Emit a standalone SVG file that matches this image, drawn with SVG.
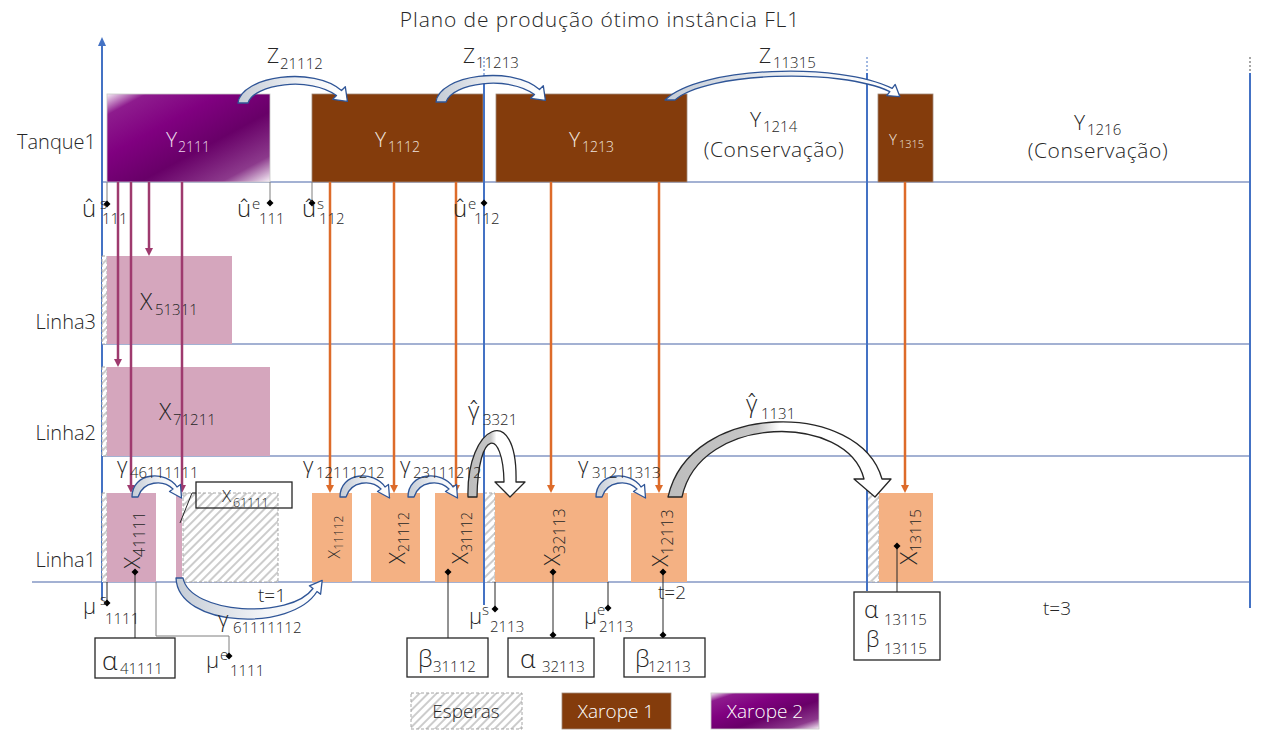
<svg xmlns="http://www.w3.org/2000/svg" xmlns:xlink="http://www.w3.org/1999/xlink" width="1261" height="732" viewBox="0 0 1261 732">
<defs>
<pattern id="hatch" width="6" height="6" patternUnits="userSpaceOnUse" patternTransform="rotate(45)"><rect width="6" height="6" fill="#fff"/><line x1="1" y1="0" x2="1" y2="6" stroke="#BFBFBF" stroke-width="1.6"/></pattern>
<linearGradient id="gP" x1="0" y1="0" x2="1" y2="1"><stop offset="0" stop-color="#F6ECF6"/><stop offset="0.12" stop-color="#8E1C8E"/><stop offset="0.35" stop-color="#800080"/><stop offset="0.6" stop-color="#680068"/><stop offset="0.85" stop-color="#8C3A8C"/><stop offset="1" stop-color="#F8F2F8"/></linearGradient>
<linearGradient id="gZ" x1="0" y1="0" x2="1" y2="0"><stop offset="0" stop-color="#C5CCD6"/><stop offset="0.6" stop-color="#F2F4F7"/><stop offset="1" stop-color="#FFFFFF"/></linearGradient>
<linearGradient id="gG" x1="0" y1="0" x2="1" y2="0"><stop offset="0" stop-color="#BDBDBD"/><stop offset="0.4" stop-color="#C6C6C6"/><stop offset="0.5" stop-color="#FFFFFF"/><stop offset="1" stop-color="#FFFFFF"/></linearGradient>
<marker id="aO" viewBox="0 0 10 10" refX="0" refY="5" markerWidth="8" markerHeight="8" markerUnits="userSpaceOnUse" orient="auto"><path d="M0,0 L10,5 L0,10 z" fill="#DD6B2A"/></marker>
<marker id="aP" viewBox="0 0 10 10" refX="0" refY="5" markerWidth="8" markerHeight="8" markerUnits="userSpaceOnUse" orient="auto"><path d="M0,0 L10,5 L0,10 z" fill="#9E3A6E"/></marker>
<path id="dm" d="M0,-3.5 L3.5,0 L0,3.5 L-3.5,0 z" fill="#000"/>
<path id="zarc" d="M238,103 C241,76 314,66 341.5,90.5 L345.3,86.7 L347.4,101.4 L332.7,99.3 L336.5,95.5 C310,76 254,84 248,103 Z"/>
<path id="sarc" d="M132,497 C132,472 166,470 177,487 L180.5,484.5 L181.5,498 L169.5,491.5 L173,489 C163,479 143,481 138,497 Z"/>
</defs>
<style>
text{font-family:"Open Sans","Liberation Sans",sans-serif;fill:#262626;font-weight:300}
.row{font-size:20px;text-anchor:end}
.grid{stroke:#8497C4;stroke-width:1.3;fill:none}
.axis{stroke:#4472C4;stroke-width:2;fill:none}
.dot{stroke:#4472C4;stroke-width:1;stroke-dasharray:2 2;fill:none}
.dotg{stroke:#A6A6A6;stroke-width:2;stroke-dasharray:2 2;fill:none}
.brown{fill:#843C0C;stroke:#A08878;stroke-width:0.8}
.orange{fill:#F4B183}
.pink{fill:#D5A6BD}
.hatch{fill:url(#hatch);stroke:#A6A6A6;stroke-width:1;stroke-dasharray:3 2}
.lo{stroke:#DD6B2A;stroke-width:2.5;marker-end:url(#aO)}
.lp{stroke:#9E3A6E;stroke-width:2.5;marker-end:url(#aP)}
.mk{stroke:#7F7F7F;stroke-width:1;fill:none}
.mkb{stroke:#262626;stroke-width:1;fill:none}
.box{fill:#fff;stroke:#262626;stroke-width:1.3}
.za{fill:url(#gZ);stroke:#2F5597;stroke-width:1.3;stroke-linejoin:round}
.ga{fill:url(#gG);stroke:#262626;stroke-width:1.3;stroke-linejoin:round}
.wt{fill:#EFE3DC}
.wp{fill:#ECD8EC}
.ww{fill:#FFFFFF}
</style>
<rect width="1261" height="732" fill="#fff"/>
<text x="600" y="27" font-size="21" text-anchor="middle" letter-spacing="0.9">Plano de produção ótimo instância FL1</text>

<g id="grid">
<line class="grid" x1="102" y1="182" x2="1250" y2="182"/>
<line class="grid" x1="102" y1="344" x2="1250" y2="344"/>
<line class="grid" x1="102" y1="456" x2="1250" y2="456"/>
<line class="grid" x1="32" y1="582" x2="1250" y2="582"/>
<line class="axis" x1="102" y1="600" x2="102" y2="44"/>
<polygon points="102,37 98,46 106,46" fill="#4472C4"/>
</g>

<g id="rowlabels">
<text class="row" x="96" y="149">Tanque1</text>
<text class="row" x="96" y="329">Linha3</text>
<text class="row" x="96" y="440">Linha2</text>
<text class="row" x="96" y="567">Linha1</text>
</g>

<g id="Y2111"><rect x="107" y="94" width="163" height="88" fill="url(#gP)" stroke="#C8C8C8" stroke-width="0.8"/><text x="166" y="147" font-size="21" class="wp">Y<tspan x="178" y="152" font-size="14">2111</tspan></text></g>
<g id="Y1112"><rect x="312" y="94" width="171" height="88" class="brown"/><text x="375" y="147" font-size="21" class="wt">Y<tspan x="388" y="152" font-size="14">1112</tspan></text></g>
<g id="Y1213"><rect x="496" y="94" width="191" height="88" class="brown"/><text x="569" y="147" font-size="21" class="wt">Y<tspan x="582" y="152" font-size="14">1213</tspan></text></g>
<g id="Y1214"><text x="750" y="127" font-size="21">Y<tspan x="763" y="132" font-size="15">1214</tspan></text><text x="774" y="157" font-size="21" text-anchor="middle" letter-spacing="0.6">(Conservação)</text></g>
<g id="Y1315"><rect x="878" y="94" width="55" height="88" class="brown"/><text x="889" y="145" font-size="15" class="wt">Y<tspan x="899" y="148" font-size="11">1315</tspan></text></g>
<g id="Y1216"><text x="1074" y="130" font-size="21">Y<tspan x="1087" y="135" font-size="15">1216</tspan></text><text x="1098" y="158" font-size="21" text-anchor="middle" letter-spacing="0.6">(Conservação)</text></g>

<g id="X51311"><rect x="102" y="256" width="5" height="88" class="hatch"/><rect x="107" y="256" width="125" height="88" class="pink"/><text x="140" y="310" font-size="23">X<tspan x="155" y="315" font-size="15">51311</tspan></text></g>
<g id="X71211"><rect x="102" y="367" width="5" height="89" class="hatch"/><rect x="107" y="367" width="163" height="89" class="pink"/><text x="159" y="420" font-size="23">X<tspan x="173" y="425" font-size="15">71211</tspan></text></g>

<g id="X41111"><rect x="102" y="493" width="5" height="89" class="hatch"/><rect x="107" y="493" width="49" height="89" class="pink"/><text transform="translate(140,540) rotate(-90)" text-anchor="middle" font-size="22">X<tspan dy="5" font-size="16">41111</tspan></text></g>
<g id="X61111"><rect x="176" y="493" width="6" height="89" class="pink"/><rect x="183" y="493" width="95" height="89" class="hatch"/><rect x="196" y="482" width="96" height="26" fill="none" stroke="#262626" stroke-width="1.3"/><polyline class="mkb" points="196,493 192,493 180,523"/><text x="222" y="502" font-size="17">X<tspan x="233" y="507" font-size="12.5">61111</tspan></text></g>
<g id="X11112"><rect x="312" y="493" width="40" height="89" class="orange"/><text transform="translate(340,537) rotate(-90)" text-anchor="middle" font-size="16">X<tspan dy="3" font-size="12">11112</tspan></text></g>
<g id="X21112"><rect x="371" y="493" width="49" height="89" class="orange"/><text transform="translate(405,538) rotate(-90)" text-anchor="middle" font-size="22">X<tspan dy="4" font-size="14">21112</tspan></text></g>
<g id="X31112"><rect x="435" y="493" width="48" height="89" class="orange"/><text transform="translate(468,538) rotate(-90)" text-anchor="middle" font-size="22">X<tspan dy="4" font-size="14">31112</tspan></text></g>
<g id="X32113"><rect x="484" y="493" width="11" height="89" class="hatch"/><rect x="495" y="493" width="113" height="89" class="orange"/><text transform="translate(560,537) rotate(-90)" text-anchor="middle" font-size="22">X<tspan dy="5" font-size="16">32113</tspan></text></g>
<g id="X12113"><rect x="631" y="493" width="56" height="89" class="orange"/><text transform="translate(668,538) rotate(-90)" text-anchor="middle" font-size="22">X<tspan dy="5" font-size="16">12113</tspan></text></g>
<g id="X13115"><rect x="867" y="493" width="12" height="89" class="hatch"/><rect x="879" y="493" width="54" height="89" class="orange"/><text transform="translate(917,537) rotate(-90)" text-anchor="middle" font-size="24">X<tspan dy="4" font-size="15">13115</tspan></text></g>

<g id="vlines">
<line class="dot" x1="484" y1="57" x2="484" y2="75"/>
<line class="axis" x1="484" y1="75" x2="484" y2="605"/>
<line class="dot" x1="867" y1="57" x2="867" y2="73"/>
<line class="axis" x1="867" y1="73" x2="867" y2="591"/>
<line class="dotg" x1="1250" y1="57" x2="1250" y2="73"/>
<line class="axis" x1="1250" y1="73" x2="1250" y2="608"/>
</g>

<g id="connectors">
<line class="lp" x1="118" y1="182" x2="118" y2="359"/>
<line class="lp" x1="131" y1="182" x2="131" y2="485"/>
<line class="lp" x1="149" y1="182" x2="149" y2="248"/>
<line class="lp" x1="182" y1="182" x2="182" y2="485"/>
<line class="lo" x1="330" y1="182" x2="330" y2="485"/>
<line class="lo" x1="394" y1="182" x2="394" y2="485"/>
<line class="lo" x1="456" y1="182" x2="456" y2="485"/>
<line class="lo" x1="551" y1="182" x2="551" y2="485"/>
<line class="lo" x1="659" y1="182" x2="659" y2="485"/>
<line class="lo" x1="905" y1="182" x2="905" y2="485"/>
<use xlink:href="#zarc" class="za"/>
<use xlink:href="#zarc" class="za" transform="translate(198,-1)"/>
<path class="za" d="M665,100 C700,66 840,62 892.2,88.4 L895.2,84.4 L899.8,96.6 L886.8,95.6 L889.8,91.6 C840,68 706,72 675,100 Z"/>
<use xlink:href="#sarc" class="za"/>
<use xlink:href="#sarc" class="za" transform="translate(208,0)"/>
<use xlink:href="#sarc" class="za" transform="translate(276,0)"/>
<use xlink:href="#sarc" class="za" transform="translate(464,0)"/>
<path class="za" d="M176,578 C178,628 292,632 317,591.5 L320.6,594.2 L322.2,580.4 L309.4,585.8 L313,588.5 C290,620 190,614 183,578 Z"/>
<path class="ga" d="M468,497 C466,425 518,400 516,482 L525,482 L510,497 L495,482 L504,482 C503,428 478,428 477,497 Z"/>
<path class="ga" d="M668,497 C690,400 860,400 882,479 L891,479 L875,497 L854,479 L864,479 C848,413 700,413 682,497 Z"/>
</g>

<g id="markers">
<line class="mk" x1="107" y1="182" x2="107" y2="204"/><use xlink:href="#dm" x="107" y="204"/>
<line class="mk" x1="270" y1="182" x2="270" y2="203"/><use xlink:href="#dm" x="270" y="203"/>
<line class="mk" x1="312" y1="182" x2="312" y2="203"/><use xlink:href="#dm" x="312" y="203"/>
<use xlink:href="#dm" x="484" y="203"/>
<line class="mkb" x1="107" y1="582" x2="107" y2="603"/><use xlink:href="#dm" x="107" y="603"/>
<line class="mkb" x1="135" y1="572" x2="135" y2="638"/><use xlink:href="#dm" x="135" y="572"/>
<polyline class="mk" points="156,582 156,636 229,636 229,656"/><use xlink:href="#dm" x="229" y="656"/>
<line class="mkb" x1="448" y1="572" x2="448" y2="638"/><use xlink:href="#dm" x="448" y="572"/>
<line class="mkb" x1="495" y1="582" x2="495" y2="609"/><use xlink:href="#dm" x="495" y="609"/>
<line class="mkb" x1="553" y1="572" x2="553" y2="638"/><use xlink:href="#dm" x="553" y="572"/><use xlink:href="#dm" x="553" y="635"/>
<line class="mkb" x1="608" y1="582" x2="608" y2="608"/><use xlink:href="#dm" x="608" y="608"/>
<line class="mkb" x1="663" y1="572" x2="663" y2="638"/><use xlink:href="#dm" x="663" y="572"/><use xlink:href="#dm" x="663" y="635"/>
<line class="mkb" x1="897" y1="546" x2="897" y2="592"/><use xlink:href="#dm" x="897" y="546"/>
</g>

<g id="labels">
<text x="267" y="63" font-size="21">Z<tspan x="280" y="69" font-size="15">21112</tspan></text>
<text x="463" y="63" font-size="21">Z<tspan x="476" y="68" font-size="15">11213</tspan></text>
<text x="759" y="63" font-size="21">Z<tspan x="773" y="68" font-size="15">11315</tspan></text>
<text x="82" y="217" font-size="24">û<tspan x="100" y="209" font-size="15">s</tspan><tspan x="102" y="224" font-size="15">111</tspan></text>
<text x="237" y="217" font-size="24">û<tspan x="252" y="209" font-size="15">e</tspan><tspan x="259" y="224" font-size="15">111</tspan></text>
<text x="302" y="217" font-size="24">û<tspan x="317" y="209" font-size="15">s</tspan><tspan x="319" y="224" font-size="15">112</tspan></text>
<text x="453" y="217" font-size="24">û<tspan x="468" y="209" font-size="15">e</tspan><tspan x="474" y="224" font-size="15">112</tspan></text>
<text x="117" y="473" font-size="22">γ<tspan x="130" y="478" font-size="15">46111111</tspan></text>
<text x="303" y="473" font-size="22">γ<tspan x="316" y="478" font-size="15">12111212</tspan></text>
<text x="400" y="473" font-size="22">γ<tspan x="413" y="478" font-size="15">23111212</tspan></text>
<text x="578" y="473" font-size="22">γ<tspan x="592" y="478" font-size="15">31211313</tspan></text>
<text x="218" y="627" font-size="22">γ<tspan x="233" y="633" font-size="15">61111112</tspan></text>
<text x="468" y="419" font-size="24">γ̂<tspan x="483" y="425" font-size="15">3321</tspan></text>
<text x="746" y="412" font-size="24">γ̂<tspan x="761" y="419" font-size="15">1131</tspan></text>
<text x="258" y="602" font-size="19">t=1</text>
<text x="658" y="599" font-size="19">t=2</text>
<text x="1043" y="615" font-size="19">t=3</text>
<text x="83" y="614" font-size="22">μ<tspan x="100" y="605" font-size="15">s</tspan><tspan x="105" y="624" font-size="15">1111</tspan></text>
<text x="206" y="668" font-size="22">μ<tspan x="220" y="660" font-size="15">e</tspan><tspan x="230" y="676" font-size="15">1111</tspan></text>
<text x="469" y="624" font-size="22">μ<tspan x="482" y="615" font-size="15">s</tspan><tspan x="490" y="632" font-size="15">2113</tspan></text>
<text x="584" y="624" font-size="22">μ<tspan x="597" y="615" font-size="15">e</tspan><tspan x="599" y="632" font-size="15">2113</tspan></text>
</g>

<g id="alpha41111"><rect class="box" x="95" y="638" width="80" height="40"/><text x="102" y="670" font-size="26">α<tspan x="120" y="674" font-size="15">41111</tspan></text></g>
<g id="beta31112"><rect class="box" x="407" y="638" width="81" height="39"/><text x="418" y="667" font-size="24">β<tspan x="433" y="672" font-size="15">31112</tspan></text></g>
<g id="alpha32113"><rect class="box" x="508" y="638" width="86" height="39"/><text x="520" y="668" font-size="26">α<tspan x="542" y="672" font-size="15">32113</tspan></text></g>
<g id="beta12113"><rect class="box" x="624" y="638" width="81" height="39"/><text x="635" y="667" font-size="24">β<tspan x="648" y="672" font-size="15">12113</tspan></text></g>
<g id="ab13115"><rect class="box" x="854" y="592" width="86" height="68"/><text x="864" y="618" font-size="24">α<tspan x="884" y="625" font-size="15">13115</tspan></text><text x="866" y="647" font-size="22">β<tspan x="884" y="654" font-size="15">13115</tspan></text></g>

<g id="legend">
<g id="leg-esperas"><rect x="411" y="693" width="111" height="36" class="hatch"/><text x="466" y="718" font-size="19" text-anchor="middle">Esperas</text></g>
<g id="leg-xarope1"><rect x="562" y="693" width="109" height="36" class="brown"/><text x="616" y="718" font-size="19" text-anchor="middle" class="ww">Xarope 1</text></g>
<g id="leg-xarope2"><rect x="711" y="693" width="108" height="36" fill="url(#gP)" stroke="#C8C8C8" stroke-width="0.8"/><text x="765" y="718" font-size="19" text-anchor="middle" class="ww">Xarope 2</text></g>
</g>
</svg>
